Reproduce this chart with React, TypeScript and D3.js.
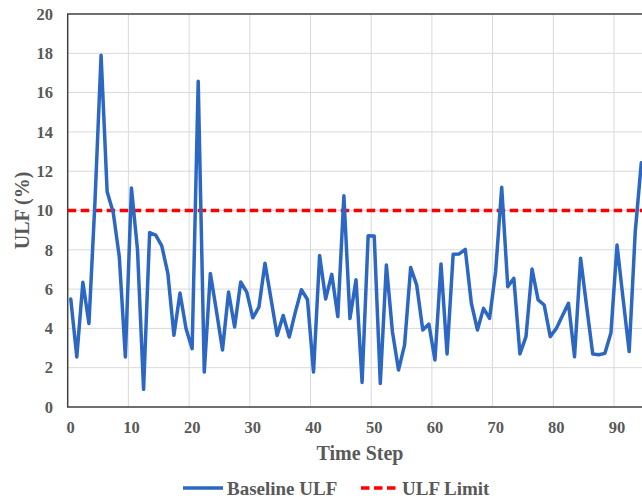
import React, { useRef, useEffect } from "react";
import { select, scaleLinear, line } from "d3";

const WIDTH = 642;
const HEIGHT = 498;
const PLOT = { left: 67.7, top: 14, bottom: 407 };
const STEP = 6.07;
const N_CATEGORIES = 100;

const COLOR_TEXT = "#595959";
const COLOR_GRID = "#D9D9D9";
const COLOR_AXIS = "#404040";
const COLOR_BLUE = "#2C68C3";
const COLOR_RED = "#FF0000";
const FONT = "'Liberation Serif', 'Times New Roman', serif";

const baselineUlf = [
  5.5, 2.55, 6.35, 4.25, 10.5, 17.9, 10.95, 9.9, 7.65, 2.55,
  11.15, 8.0, 0.9, 8.88, 8.75, 8.2, 6.8, 3.65, 5.8, 3.98,
  2.97, 16.58, 1.78, 6.8, 4.9, 2.9, 5.85, 4.07, 6.36, 5.85,
  4.54, 5.08, 7.32, 5.5, 3.64, 4.66, 3.56, 4.83, 5.97, 5.47,
  1.78, 7.71, 5.5, 6.75, 4.6, 10.75, 4.5, 6.47, 1.25, 8.72,
  8.7, 1.2, 7.23, 3.83, 1.88, 3.16, 7.1, 6.2, 3.92, 4.22,
  2.39, 7.28, 2.7, 7.77, 7.79, 8.02, 5.28, 3.92, 5.02, 4.51,
  6.9, 11.18, 6.12, 6.55, 2.7, 3.58, 7.02, 5.45, 5.19, 3.58,
  4.0, 4.65, 5.28, 2.56, 7.57, 5.1, 2.7, 2.66, 2.73, 3.78,
  8.24, 5.5, 2.82, 8.92, 12.43,
];
const ulfLimit = 10;

const xTicks = [0, 10, 20, 30, 40, 50, 60, 70, 80, 90];
const yTicks = [0, 2, 4, 6, 8, 10, 12, 14, 16, 18, 20];

export default function App() {
  const ref = useRef<SVGSVGElement>(null);

  useEffect(() => {
    const svg = select(ref.current);
    svg.selectAll("*").remove();

    const x = scaleLinear()
      .domain([-0.5, N_CATEGORIES - 0.5])
      .range([PLOT.left, PLOT.left + N_CATEGORIES * STEP]);
    const y = scaleLinear().domain([0, 20]).range([PLOT.bottom, PLOT.top]);
    const xLeft = x(-0.5);
    const xRight = x(N_CATEGORIES - 0.5);

    // gridlines
    const grid = svg.append("g");
    grid
      .selectAll("line.h")
      .data(yTicks.filter((d) => d > 0 && d < 20))
      .enter()
      .append("line")
      .attr("x1", xLeft)
      .attr("x2", xRight)
      .attr("y1", (d) => y(d))
      .attr("y2", (d) => y(d))
      .attr("stroke", COLOR_GRID)
      .attr("stroke-width", 1);
    grid
      .selectAll("line.v")
      .data(xTicks.filter((d) => d > 0))
      .enter()
      .append("line")
      .attr("x1", (d) => x(d - 0.5))
      .attr("x2", (d) => x(d - 0.5))
      .attr("y1", PLOT.top)
      .attr("y2", PLOT.bottom)
      .attr("stroke", COLOR_GRID)
      .attr("stroke-width", 1);

    // frame (top, left, bottom)
    svg
      .append("path")
      .attr("d", `M${xRight},${PLOT.top}H${xLeft}V${PLOT.bottom}H${xRight}`)
      .attr("fill", "none")
      .attr("stroke", COLOR_AXIS)
      .attr("stroke-width", 1.5);

    // tick labels
    svg
      .append("g")
      .selectAll("text")
      .data(yTicks)
      .enter()
      .append("text")
      .attr("x", 53)
      .attr("y", (d) => y(d))
      .attr("dy", "0.35em")
      .attr("text-anchor", "end")
      .text((d) => d);
    svg
      .append("g")
      .selectAll("text")
      .data(xTicks)
      .enter()
      .append("text")
      .attr("x", (d) => x(d))
      .attr("y", 433)
      .attr("text-anchor", "middle")
      .text((d) => d);
    svg
      .selectAll("text")
      .attr("font-family", FONT)
      .attr("font-weight", "bold")
      .attr("font-size", 16.5)
      .attr("fill", COLOR_TEXT);

    // limit line
    svg
      .append("line")
      .attr("x1", xLeft)
      .attr("x2", xRight)
      .attr("y1", y(ulfLimit))
      .attr("y2", y(ulfLimit))
      .attr("stroke", COLOR_RED)
      .attr("stroke-width", 3.5)
      .attr("stroke-dasharray", "8.5,4.5");

    // baseline series
    const ulfLine = line<number>()
      .x((d, i) => x(i))
      .y((d) => y(d));
    svg
      .append("path")
      .datum(baselineUlf)
      .attr("fill", "none")
      .attr("stroke", COLOR_BLUE)
      .attr("stroke-width", 3.5)
      .attr("stroke-linejoin", "round")
      .attr("stroke-linecap", "round")
      .attr("d", ulfLine);

    // axis titles
    const title = (sel) =>
      sel
        .attr("font-family", FONT)
        .attr("font-weight", "bold")
        .attr("font-size", 20)
        .attr("fill", COLOR_TEXT);
    svg
      .append("text")
      .attr("x", 360)
      .attr("y", 460)
      .attr("text-anchor", "middle")
      .text("Time Step")
      .call(title);
    svg
      .append("text")
      .attr("transform", `translate(22,${(PLOT.top + PLOT.bottom) / 2}) rotate(-90)`)
      .attr("text-anchor", "middle")
      .attr("dy", "0.35em")
      .text("ULF (%)")
      .call(title);

    // legend
    const legend = svg.append("g");
    legend
      .append("line")
      .attr("x1", 183)
      .attr("x2", 223)
      .attr("y1", 488)
      .attr("y2", 488)
      .attr("stroke", COLOR_BLUE)
      .attr("stroke-width", 3.5);
    legend
      .append("text")
      .attr("x", 227)
      .attr("y", 494.5)
      .text("Baseline ULF")
      .call(title)
      .attr("font-size", 19);
    legend
      .append("line")
      .attr("x1", 361)
      .attr("x2", 396)
      .attr("y1", 488)
      .attr("y2", 488)
      .attr("stroke", COLOR_RED)
      .attr("stroke-width", 3.5)
      .attr("stroke-dasharray", "8.5,4.5");
    legend
      .append("text")
      .attr("x", 402)
      .attr("y", 494.5)
      .text("ULF Limit")
      .call(title)
      .attr("font-size", 19);
  }, []);

  return (
    <svg
      ref={ref}
      width={WIDTH}
      height={HEIGHT}
      style={{ position: "absolute", left: 0, top: 0, background: "#fff" }}
    />
  );
}
